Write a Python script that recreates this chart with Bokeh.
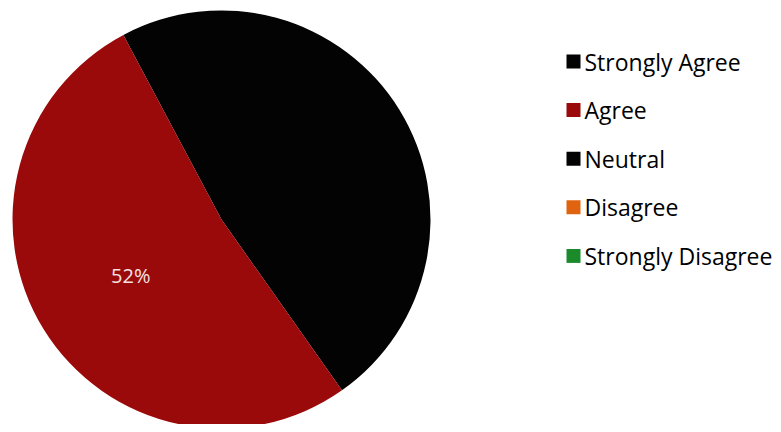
import math
from bokeh.plotting import figure
from bokeh.models import Range1d, ColumnDataSource
from bokeh.core.properties import value
from bokeh.embed import file_html
from bokeh.resources import INLINE

categories = ["Strongly Agree", "Agree", "Neutral", "Disagree", "Strongly Disagree"]
percents = [48, 52, 0, 0, 0]
colors = ["#030303", "#9b0a0a", "#030303", "#e0640f", "#1a8a2a"]
shown_labels = ["", "52%", "", "", ""]

W, H = 773, 424
p = figure(width=W, height=H, output_backend="svg", toolbar_location=None,
           x_range=Range1d(0, W), y_range=Range1d(0, H), min_border=0)
p.axis.visible = False
p.grid.visible = False
p.outline_line_color = None
p.background_fill_color = "white"
p.border_fill_color = "white"

cx, cy, r = 221, H - 219, 209
start = math.radians(118.0)
total = sum(percents)
starts, ends, mids = [], [], []
a = start
for v in percents:
    span = 2 * math.pi * v / total
    starts.append(a - span)
    ends.append(a)
    mids.append(a - span / 2)
    a -= span

keep = [i for i, v in enumerate(percents) if v > 0]
src = ColumnDataSource(dict(x=[cx] * len(keep), y=[cy] * len(keep),
                            s=[starts[i] for i in keep], e=[ends[i] for i in keep],
                            c=[colors[i] for i in keep]))
p.wedge(x="x", y="y", radius=r, start_angle="s", end_angle="e", fill_color="c",
        line_color=None, source=src)

lx = [cx + 0.51 * r * math.cos(m) for m in mids]
ly = [cy + 0.51 * r * math.sin(m) for m in mids]
p.text(x=lx, y=ly, text=shown_labels, text_color="#f3e3e3", text_font=value("Open Sans"),
       text_font_size="20px", text_align="center", text_baseline="middle")

# legend
row0, step = H - 61, 48.6
ys = [row0 - i * step for i in range(len(categories))]
p.scatter(x=[573] * 5, y=ys, marker="square", size=14, fill_color=colors, line_color=None)
p.text(x=[584] * 5, y=ys, text=categories, text_color="#000000", text_font=value("Open Sans"),
       text_font_size="23px", text_align="left", text_baseline="middle")

open("out.html", "w").write(file_html(p, INLINE))
